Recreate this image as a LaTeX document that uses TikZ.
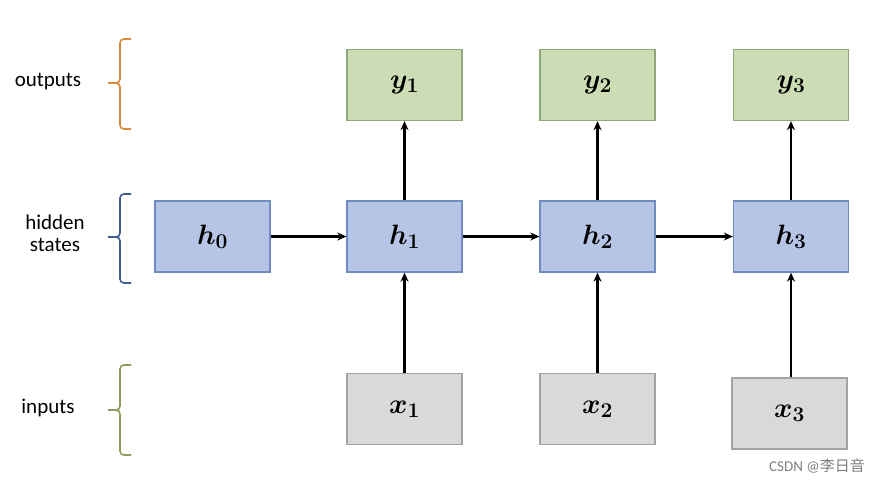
\documentclass[tikz,border=0pt]{standalone}
\usepackage{fix-cm}
\usepackage{fontspec}
\setmainfont{Carlito}
\newfontfamily\cjk{Noto Sans CJK SC}
\usetikzlibrary{arrows.meta}
\DeclareMathSizes{28}{28}{21}{16}
\definecolor{gfill}{HTML}{CCDCB4}
\definecolor{gdraw}{HTML}{8FA87A}
\definecolor{bfill}{HTML}{B6C5E5}
\definecolor{bdraw}{HTML}{6E8BC2}
\definecolor{xfill}{HTML}{D9D9D9}
\definecolor{xdraw}{HTML}{A3A3A3}
\definecolor{bro}{HTML}{D98A3C}
\definecolor{brb}{HTML}{3E5C8E}
\definecolor{brg}{HTML}{8D9B5C}
\tikzset{
  cell/.style={minimum width=115pt, minimum height=71pt, line width=1.3pt, inner sep=0pt, font=\fontsize{28}{30}\selectfont\boldmath},
  ybox/.style={cell, fill=gfill, draw=gdraw},
  hbox/.style={cell, fill=bfill, draw=bdraw},
  xbox/.style={cell, fill=xfill, draw=xdraw},
  arr/.style={line width=2.2pt, -{Stealth[length=9pt,width=8pt]}},
  brace/.style={line width=1.6pt, rounded corners=4pt},
  lab/.style={font=\fontsize{21}{22}\selectfont, align=center}
}
\begin{document}
\begin{tikzpicture}[x=1pt,y=-1pt]
\useasboundingbox[fill=white] (0,0) rectangle (882,483);
% outputs
\node[ybox] (y1) at (404.5,85) {$y_1$};
\node[ybox] (y2) at (597.5,85) {$y_2$};
\node[ybox] (y3) at (791,85) {$y_3$};
% hidden
\node[hbox] (h0) at (212.5,236.5) {$h_0$};
\node[hbox] (h1) at (404.5,236.5) {$h_1$};
\node[hbox] (h2) at (597.5,236.5) {$h_2$};
\node[hbox] (h3) at (791,236.5) {$h_3$};
% inputs
\node[xbox] (x1) at (404.5,409) {$x_1$};
\node[xbox] (x2) at (597.5,409) {$x_2$};
\node[xbox] (x3) at (789.5,413.5) {$x_3$};
% arrows
\draw[arr] (h0) -- (h1);
\draw[arr] (h1) -- (h2);
\draw[arr] (h2) -- (h3);
\draw[arr] (h1) -- (y1);
\draw[arr] (h2) -- (y2);
\draw[arr] (h3) -- (y3);
\draw[arr] (x1) -- (h1);
\draw[arr] (x2) -- (h2);
\draw[arr] (x3.north -| h3) -- (h3);
% braces
\draw[brace, bro] (131,39) -- (120,39) -- (120,83) -- (108,83);
\draw[brace, bro] (108,83) -- (120,83) -- (120,129) -- (131,129);
\draw[brace, brb] (131,194) -- (120,194) -- (120,237) -- (108,237);
\draw[brace, brb] (108,237) -- (120,237) -- (120,283) -- (131,283);
\draw[brace, brg] (131,365) -- (120,365) -- (120,410) -- (108,410);
\draw[brace, brg] (108,410) -- (120,410) -- (120,455) -- (131,455);
% labels
\node[lab] (lo) at (48,82) {outputs};
\node[lab] (lh) at (55,233) {hidden\\states};
\node[lab] (li) at (48,408) {inputs};
\node[font=\fontsize{15}{17}\selectfont, text=gray] (wm) at (817,466) {CSDN @{\cjk 李日音}};
\end{tikzpicture}
\end{document}
